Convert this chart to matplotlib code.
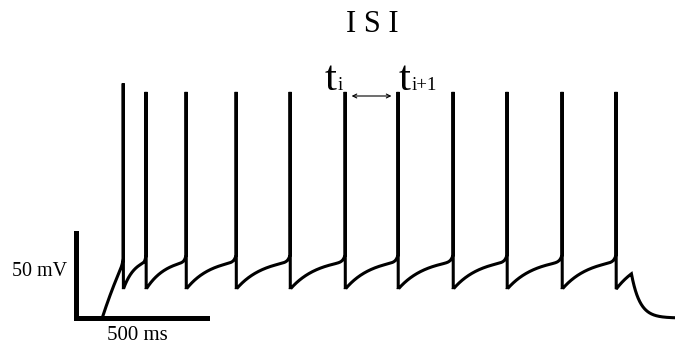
import numpy as np
import matplotlib
matplotlib.use("Agg")
import matplotlib.pyplot as plt

# ---- recording parameters (ms, mV) ----
v_rest = -70.0
stim_on_ms = 100.0
stim_off_ms = 2120.0
spike_times_ms = [180, 267, 420, 611, 817, 1027, 1229, 1439, 1645, 1855, 2061]
spike_peak_mv = [68, 63, 63, 63, 63, 63, 63, 63, 63, 63, 63]
threshold_mv = [-35, -33, -33, -33, -33, -33, -33, -33, -33, -33, -33]
reset_mv = -53.0
offset_peak_mv = -44.0     # voltage when the current step is switched off
decay_tau_ms = 32.0
end_ms = 2290.0

# scale bars
bar_mv = 50
bar_ms = 500


def approach(t0, v0, t1, v1, tau_frac, w_frac=0.04, a=0.8, t_stop=None):
    """Sub-threshold trajectory from (t0, v0) heading to threshold v1 at t1."""
    t_end = t1 if t_stop is None else t_stop
    t = np.linspace(t0, t_end, 200)
    s = (t - t0) / (t1 - t0)
    g = (1 - np.exp(-s / tau_frac)) / (1 - np.exp(-1 / tau_frac))
    up = np.exp((s - 1) / w_frac)
    return t, v0 + (v1 - v0) * (a * g + (1 - a) * up)


ts, vs = [np.array([0.0, stim_on_ms])], [np.array([v_rest, v_rest])]
t_prev, v_prev, tau, amp = stim_on_ms, v_rest, 3.0, 0.92
for tk, vpk, vth in zip(spike_times_ms, spike_peak_mv, threshold_mv):
    t, v = approach(t_prev, v_prev, tk, vth, tau, a=amp)
    ts.append(t); vs.append(v)
    ts.append(np.array([tk + 0.2, tk + 0.9])); vs.append(np.array([vpk, reset_mv]))
    t_prev, v_prev, tau, amp = tk + 0.9, reset_mv, 0.5, 0.8

# depolarisation until the current is switched off, then passive decay
last_isi = spike_times_ms[-1] - spike_times_ms[-2]
t, v = approach(t_prev, v_prev, t_prev + last_isi, threshold_mv[-1], 0.5,
                t_stop=stim_off_ms)
v = reset_mv + (v - reset_mv) * (offset_peak_mv - reset_mv) / (v[-1] - reset_mv)
ts.append(t); vs.append(v)
t_dec = np.linspace(stim_off_ms, end_ms, 200)
ts.append(t_dec)
vs.append(v_rest + (offset_peak_mv - v_rest) * np.exp(-(t_dec - stim_off_ms) / decay_tau_ms))

time = np.concatenate(ts)
volt = np.concatenate(vs)

# ---- figure ----
W, H = 675, 343
fig = plt.figure(figsize=(W / 100, H / 100), dpi=100)
ax = fig.add_axes([0, 0, 1, 1])
ax.set_xlim(-290.1, 2286.3)
ax.set_ylim(-84.71, 117.06)
ax.axis("off")

ax.plot(time, volt, color="black", lw=2.2, solid_joinstyle="miter",
        solid_capstyle="butt")

# scale bars
ax.plot([0, 0], [v_rest, v_rest + bar_mv], color="black", lw=3.6,
        solid_capstyle="projecting")
ax.plot([0, bar_ms], [v_rest, v_rest], color="black", lw=3.6,
        solid_capstyle="projecting")

serif = "Liberation Serif"


def fxy(x, y):
    return x / W, 1 - y / H


fig.text(*fxy(12, 272), "50 mV", family=serif, fontsize=14.4,
         ha="left", va="center")
fig.text(*fxy(137, 335), "500 ms", family=serif, fontsize=15,
         ha="center", va="center")
fig.text(*fxy(372, 24), "I S I", family=serif, fontsize=22,
         ha="center", va="center")

# spike time labels
fig.text(*fxy(325, 90), "t", family=serif, fontsize=31, ha="left", va="baseline")
fig.text(*fxy(338, 90), "i", family=serif, fontsize=13.5, ha="left", va="baseline")
fig.text(*fxy(399, 90), "t", family=serif, fontsize=31, ha="left", va="baseline")
fig.text(*fxy(412, 90), "i+1", family=serif, fontsize=13.5, ha="left", va="baseline")

# inter-spike interval arrow between spike i and spike i+1
i = 5
y_arrow = v_rest + (318 - 96) * 50 / 85
pad = 25
ax.annotate("", xy=(spike_times_ms[i] + pad, y_arrow),
            xytext=(spike_times_ms[i + 1] - pad, y_arrow),
            arrowprops=dict(arrowstyle="<->", lw=0.8, color="black",
                            mutation_scale=7, shrinkA=0, shrinkB=0))

fig.savefig("out.png", dpi=100)
